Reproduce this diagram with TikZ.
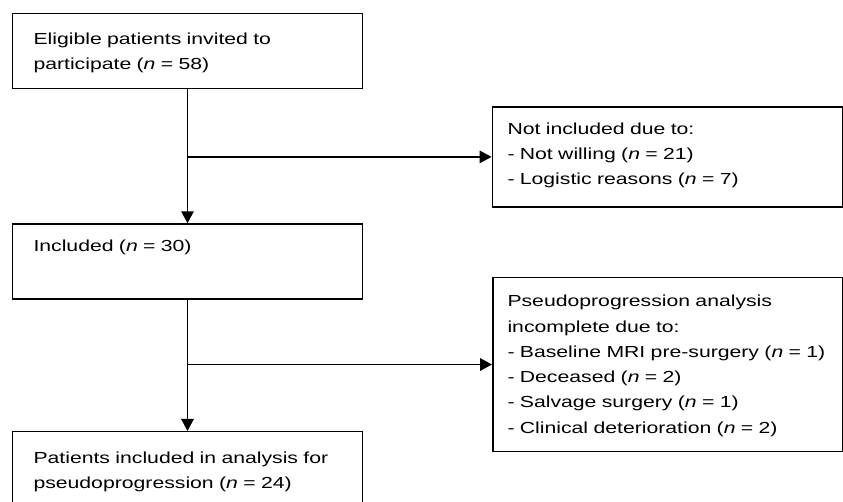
\documentclass[tikz,border=0pt]{standalone}
\usepackage{fontspec}
\setmainfont{Liberation Sans}[FakeStretch=1.325]
\usetikzlibrary{arrows.meta}
\begin{document}
\begin{tikzpicture}[x=1pt,y=-1pt,
  box/.style={draw=black,line width=1.5pt,rectangle,inner sep=0pt,minimum width=350pt},
  txt/.style={anchor=base west,inner sep=0pt,text width=340pt,align=left,
    font=\fontsize{16}{25.3}\selectfont},
  arr/.style={line width=1.5pt,-{Triangle[length=12pt,width=12.5pt]}}]
\useasboundingbox (0,0) rectangle (843,501);
\clip (0,0) rectangle (843,501);
\node[box,minimum height=75pt] (b1) at (187.5,50.8) {};
\node[box,minimum height=99.7pt] (b2) at (667.3,156.9) {};
\node[box,minimum height=75pt] (b3) at (187.5,261.5) {};
\node[box,minimum height=174.4pt,minimum width=349.5pt] (b4) at (667.5,364.5) {};
\node[box,minimum height=75pt] (b5) at (187.5,469.2) {};
\node[txt] (t1) at (33.3,44) {Eligible patients invited to\\participate (\textit{n} = 58)};
\node[txt] (t2) at (507.3,134) {Not included due to:\\- Not willing (\textit{n} = 21)\\- Logistic reasons (\textit{n} = 7)};
\node[txt] (t3) at (33.3,251.7) {Included (\textit{n} = 30)};
\node[txt] (t4) at (507.3,306.7) {Pseudoprogression analysis\\incomplete due to:\\- Baseline MRI pre-surgery (\textit{n} = 1)\\- Deceased (\textit{n} = 2)\\- Salvage surgery (\textit{n} = 1)\\- Clinical deterioration (\textit{n} = 2)};
\node[txt] (t5) at (33.3,463.3) {Patients included in analysis for\\pseudoprogression (\textit{n} = 24)};
\draw[arr] (b1.south) -- (b3.north);
\draw[arr] (b1.south |- b2.west) -- (b2.west);
\draw[arr] (b3.south) -- (b5.north);
\draw[arr] (b3.south |- b4.west) -- (b4.west);
\end{tikzpicture}
\end{document}
